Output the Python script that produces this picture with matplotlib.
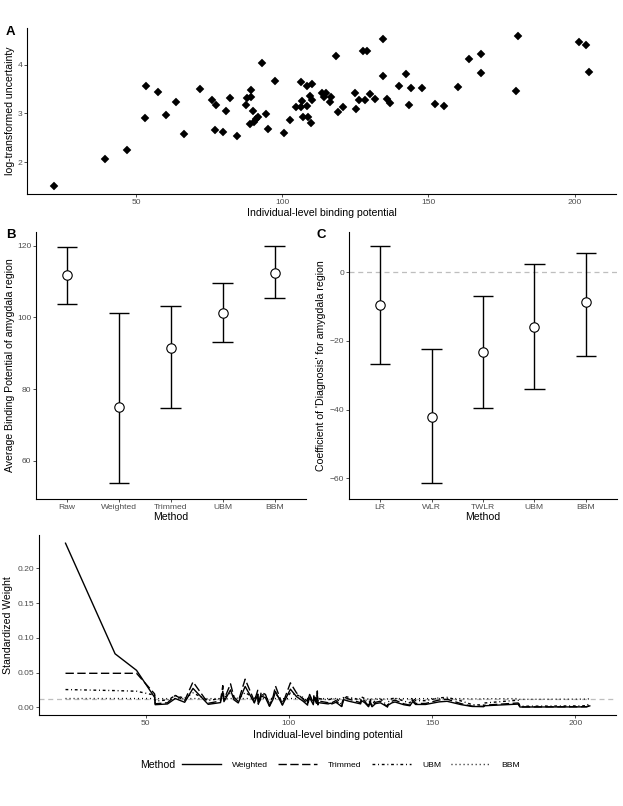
import numpy as np
import matplotlib
matplotlib.use("Agg")
import matplotlib.pyplot as plt
from matplotlib.lines import Line2D
from matplotlib.ticker import FormatStrFormatter

plt.rcParams["font.family"] = ["Liberation Sans", "DejaVu Sans"]

# panel A: one point per subject
binding = [22.0, 39.3, 46.8, 53.3, 53.1, 57.6, 63.6, 60.3, 66.5, 71.8,
           76.1, 77.3, 76.9, 79.6, 80.8, 82.3, 84.7, 87.9, 87.7, 89.3,
           89.4, 90.0, 89.1, 90.3, 91.1, 91.8, 93.2, 94.5, 95.3, 97.7,
           100.5, 102.6, 104.9, 106.5, 106.7, 106.5, 107.2, 108.7, 108.6, 108.5,
           110.1, 109.6, 110.1, 109.9, 113.7, 115.0, 114.4, 116.8, 116.4, 118.4,
           119.1, 120.7, 125.0, 126.4, 125.3, 127.8, 129.0, 128.3, 130.2, 131.9,
           134.4, 134.4, 135.9, 137.0, 140.1, 142.2, 144.2, 143.2, 147.7, 152.4,
           155.2, 160.1, 163.9, 168.0, 168.0, 180.6, 180.0, 201.4, 203.9, 205.0]
log_unc = [1.50, 2.06, 2.245, 3.56, 2.90, 3.44, 3.24, 2.96, 2.58, 3.50,
           3.27, 3.18, 2.66, 2.62, 3.04, 3.31, 2.53, 3.31, 3.18, 3.48,
           3.34, 3.05, 2.78, 2.83, 2.88, 2.92, 4.03, 2.99, 2.67, 3.67,
           2.60, 2.86, 3.14, 3.65, 3.26, 3.13, 2.92, 2.92, 3.16, 3.56,
           3.61, 3.36, 3.27, 2.80, 3.43, 3.43, 3.34, 3.33, 3.24, 4.17,
           3.03, 3.13, 3.43, 3.27, 3.10, 4.29, 4.29, 3.27, 3.39, 3.29,
           4.53, 3.76, 3.30, 3.21, 3.57, 3.81, 3.52, 3.18, 3.52, 3.20,
           3.15, 3.55, 4.11, 4.22, 3.83, 4.60, 3.46, 4.46, 4.40, 3.85]

# panel B: average binding potential
methods_b = ["Raw", "Weighted", "Trimmed", "UBM", "BBM"]
mean_b = [111.8, 75.0, 91.4, 101.1, 112.4]
lo_b = [103.8, 53.7, 74.7, 93.2, 105.4]
hi_b = [119.7, 101.1, 103.2, 109.5, 119.8]

# panel C: diagnosis coefficient
methods_c = ["LR", "WLR", "TWLR", "UBM", "BBM"]
coef_c = [-9.6, -42.0, -23.1, -16.0, -8.8]
lo_c = [-26.7, -61.5, -39.4, -33.9, -24.5]
hi_c = [7.7, -22.4, -6.9, 2.3, 5.5]

# panel D: weighting schemes
weight_methods = ["Weighted", "Trimmed", "UBM", "BBM"]
weight_styles = ["-", (0, (6, 2.5)), (0, (2, 2, 0.7, 2)), (0, (0.7, 2.2))]
trim_level = 0.049     # where the dashed line is flat
tau2_ubm = 650.0
tau2_bbm = 1e5

TICK = 6.1
TITLE = 7.6
W, H = 623, 806


def px_axes(fig, l, t, r, b):
    return fig.add_axes([l / W, 1 - b / H, (r - l) / W, (b - t) / H])


def classic(ax):
    for s in ["top", "right"]:
        ax.spines[s].set_visible(False)
    for s in ["left", "bottom"]:
        ax.spines[s].set_linewidth(0.8)
        ax.spines[s].set_color("black")
    ax.tick_params(length=2.0, width=0.6, color="#333333", labelsize=TICK,
                   labelcolor="#4D4D4D", pad=1.5)


def expand(v, f=0.05):
    lo, hi = min(v), max(v)
    d = (hi - lo) * f
    return lo - d, hi + d


def label_pos(ax, box, xl_top, yl_right):
    l, t, r, b = box
    ax.xaxis.set_label_coords(0.5, -(xl_top - b) / (b - t))
    ax.yaxis.set_label_coords((yl_right - l) / (r - l), 0.5)


def interval_plot(ax, labels, mid, lo, hi):
    pos = np.arange(1, len(labels) + 1)
    ax.vlines(pos, lo, hi, color="black", lw=1.0)
    ax.hlines(lo, pos - 0.2, pos + 0.2, color="black", lw=1.0)
    ax.hlines(hi, pos - 0.2, pos + 0.2, color="black", lw=1.0)
    ax.scatter(pos, mid, s=46, facecolors="white", edgecolors="black",
               linewidths=0.8, zorder=3)
    ax.set_xticks(pos)
    ax.set_xticklabels(labels)
    ax.set_xlim(0.4, len(labels) + 0.6)


fig = plt.figure(figsize=(W / 100, H / 100), dpi=100)

# ---- A
box_a = (27.3, 28, 616, 194)
ax_a = px_axes(fig, *box_a)
ax_a.plot(binding, log_unc, "D", ms=3.6, color="black", mew=0.3)
ax_a.set_xlim(*expand(binding))
ax_a.set_ylim(*expand(log_unc))
ax_a.set_xticks([50, 100, 150, 200])
ax_a.set_yticks([2, 3, 4])
ax_a.set_xlabel("Individual-level binding potential", fontsize=TITLE)
ax_a.set_ylabel("log-transformed uncertainty", fontsize=TITLE)
classic(ax_a)
label_pos(ax_a, box_a, 208.5, 15.3)

# ---- B
box_b = (36, 231.7, 305.7, 498.7)
ax_b = px_axes(fig, *box_b)
interval_plot(ax_b, methods_b, mean_b, lo_b, hi_b)
ax_b.set_ylim(49.4, 123.9)
ax_b.set_yticks([60, 80, 100, 120])
ax_b.set_xlabel("Method", fontsize=TITLE)
ax_b.set_ylabel("Average Binding Potential of amygdala region", fontsize=TITLE)
classic(ax_b)
label_pos(ax_b, box_b, 512, 15)

# ---- C
box_c = (349.3, 231.7, 616.7, 499.3)
ax_c = px_axes(fig, *box_c)
ax_c.axhline(0, color="#BEBEBE", lw=0.9, ls=(0, (4, 3)), zorder=0)
interval_plot(ax_c, methods_c, coef_c, lo_c, hi_c)
ax_c.set_ylim(-66.1, 11.8)
ax_c.set_yticks([-60, -40, -20, 0])
ax_c.set_xlabel("Method", fontsize=TITLE)
ax_c.set_ylabel("Coefficient of 'Diagnosis' for amygdala region", fontsize=TITLE)
classic(ax_c)
label_pos(ax_c, box_c, 512, 325.7)

# ---- D: standardized weights per subject
x = np.array(binding)
var = np.exp(2 * np.array(log_unc))
order = np.argsort(x)

w = 1 / var
w = w / w.sum()
trim = w.copy()
big = w > trim_level
trim[big] = trim_level
trim[~big] *= (1 - trim_level * big.sum()) / w[~big].sum()
ubm = 1 / (var + tau2_ubm)
ubm = ubm / ubm.sum()
bbm = 1 / (var + tau2_bbm)
bbm = bbm / bbm.sum()
weights = [w, trim, ubm, bbm]

box_d = (39.3, 535, 616, 715)
ax_d = px_axes(fig, *box_d)
ax_d.axhline(1 / len(binding), color="#BEBEBE", lw=0.9, ls=(0, (4, 3)), zorder=0)
for vals, ls in zip(weights, weight_styles):
    ax_d.plot(x[order], vals[order], color="black", lw=1.0, ls=ls)
ax_d.set_xlim(*expand(binding))
ax_d.set_ylim(-0.011, 0.248)
ax_d.set_xticks([50, 100, 150, 200])
ax_d.set_yticks([0, 0.05, 0.10, 0.15, 0.20])
ax_d.yaxis.set_major_formatter(FormatStrFormatter("%.2f"))
ax_d.set_xlabel("Individual-level binding potential", fontsize=TITLE)
ax_d.set_ylabel("Standardized Weight", fontsize=TITLE)
classic(ax_d)
label_pos(ax_d, box_d, 729.5, 13.5)

handles = [Line2D([], [], color="black", lw=1.0, ls=ls) for ls in weight_styles]
fig.legend(handles, weight_methods, loc="center", bbox_to_anchor=(351 / W, 1 - 765 / H),
           ncol=4, frameon=False, fontsize=TICK, handlelength=4.6,
           handletextpad=1.3, columnspacing=1.2, borderpad=0)
fig.text(140 / W, 1 - 765 / H, "Method", fontsize=TITLE, va="center")

# panel tags
for tag, px, py in [("A", 10, 32), ("B", 11, 235), ("C", 321, 235)]:
    fig.text(px / W, 1 - py / H, tag, fontsize=9.5, weight="bold",
             ha="center", va="center")

fig.savefig("out.png", dpi=100)
